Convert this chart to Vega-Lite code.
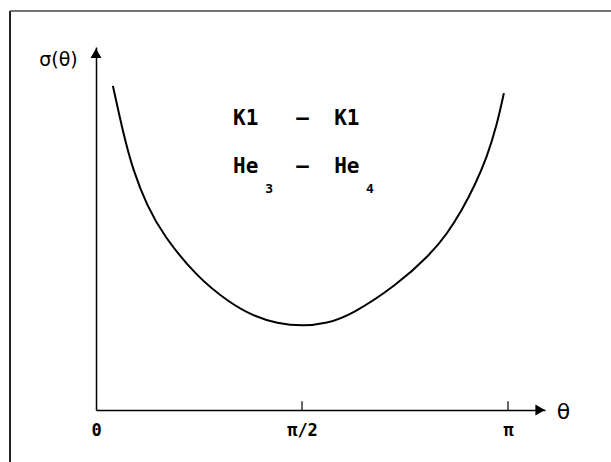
{
  "$schema": "https://vega.github.io/schema/vega-lite/v6.json",
  "width": 611,
  "height": 462,
  "autosize": "none",
  "padding": 0,
  "background": "white",
  "config": {"view": {"stroke": null}},
  "layer": [
    {
      "data": {"values": [
        {"t": 0.041, "sigma": 8.93},
        {"t": 0.066, "sigma": 7.63},
        {"t": 0.090, "sigma": 6.60},
        {"t": 0.124, "sigma": 5.62},
        {"t": 0.163, "sigma": 4.82},
        {"t": 0.245, "sigma": 3.66},
        {"t": 0.325, "sigma": 2.95},
        {"t": 0.380, "sigma": 2.60},
        {"t": 0.440, "sigma": 2.38},
        {"t": 0.502, "sigma": 2.31},
        {"t": 0.560, "sigma": 2.38},
        {"t": 0.620, "sigma": 2.62},
        {"t": 0.731, "sigma": 3.45},
        {"t": 0.811, "sigma": 4.28},
        {"t": 0.852, "sigma": 4.85},
        {"t": 0.888, "sigma": 5.50},
        {"t": 0.920, "sigma": 6.20},
        {"t": 0.949, "sigma": 6.97},
        {"t": 0.973, "sigma": 7.85},
        {"t": 0.990, "sigma": 8.73}
      ]},
      "mark": {"type": "line", "interpolate": "basis", "color": "black", "strokeWidth": 2},
      "encoding": {
        "x": {
          "field": "t", "type": "quantitative",
          "scale": {"domain": [0, 1.0898], "range": [96, 545], "nice": false, "zero": false},
          "axis": {
            "orient": "bottom", "offset": -52, "grid": false,
            "values": [0, 0.5, 1],
            "labelExpr": "datum.value == 0 ? '0' : (datum.value == 0.5 ? 'π/2' : 'π')",
            "labelFont": "DejaVu Sans Mono", "labelFontWeight": "bold", "labelFontSize": 17,
            "labelColor": "black", "labelPadding": 12, "labelBaseline": "top",
            "labelFlush": false, "labelOverlap": false,
            "domainColor": "black", "domainWidth": 1.5,
            "ticks": false,
            "title": "θ", "titleX": 563, "titleY": 1,
            "titleAlign": "center", "titleBaseline": "middle",
            "titleFont": "DejaVu Sans", "titleFontWeight": "normal", "titleFontSize": 22, "titleColor": "black"
          }
        },
        "y": {
          "field": "sigma", "type": "quantitative",
          "scale": {"domain": [0, 10], "range": [410, 47], "nice": false, "zero": false},
          "axis": {
            "orient": "left", "offset": -96, "grid": false,
            "ticks": false, "labels": false,
            "domainColor": "black", "domainWidth": 1.5,
            "title": "σ(θ)", "titleAngle": 0, "titleX": -38, "titleY": 59,
            "titleAlign": "center", "titleBaseline": "middle",
            "titleFont": "DejaVu Sans", "titleFontWeight": "normal", "titleFontSize": 19, "titleColor": "black"
          }
        }
      }
    },
    {
      "data": {"values": [{"t": 0.5}, {"t": 1}]},
      "mark": {"type": "rule", "color": "black", "strokeWidth": 1.2},
      "encoding": {
        "x": {"field": "t", "type": "quantitative"},
        "y": {"datum": 0, "type": "quantitative"},
        "y2": {"datum": 0.24}
      }
    },
    {
      "data": {"values": [{}]},
      "mark": {"type": "point", "shape": "triangle-up", "filled": true, "color": "black", "size": 120, "opacity": 1},
      "encoding": {
        "x": {"datum": 0, "type": "quantitative"},
        "y": {"datum": 9.83, "type": "quantitative"}
      }
    },
    {
      "data": {"values": [{}]},
      "mark": {"type": "point", "shape": "triangle-right", "filled": true, "color": "black", "size": 120, "opacity": 1},
      "encoding": {
        "x": {"datum": 1.078, "type": "quantitative"},
        "y": {"datum": 0, "type": "quantitative"}
      }
    },
    {
      "data": {"values": [{}]},
      "mark": {"type": "rule", "color": "#222", "strokeWidth": 2},
      "encoding": {
        "x": {"datum": -0.2087, "type": "quantitative"},
        "y": {"datum": 10.99, "type": "quantitative"},
        "y2": {"datum": -1.6}
      }
    },
    {
      "data": {"values": [{}]},
      "mark": {"type": "rule", "color": "#444", "strokeWidth": 1.5},
      "encoding": {
        "y": {"datum": 10.99, "type": "quantitative"},
        "x": {"datum": -0.2087, "type": "quantitative"},
        "x2": {"datum": 1.35}
      }
    },
    {
      "data": {"values": [{}]},
      "mark": {"type": "text", "text": "K1\u00a0\u00a0\u00a0–\u00a0\u00a0K1", "font": "DejaVu Sans Mono", "fontWeight": "bold", "fontSize": 21, "align": "left", "baseline": "middle", "color": "black"},
      "encoding": {
        "x": {"datum": 0.3325, "type": "quantitative"},
        "y": {"datum": 8.02, "type": "quantitative"}
      }
    },
    {
      "data": {"values": [{}]},
      "mark": {"type": "text", "text": "He\u00a0\u00a0\u00a0–\u00a0\u00a0He", "font": "DejaVu Sans Mono", "fontWeight": "bold", "fontSize": 21, "align": "left", "baseline": "middle", "color": "black"},
      "encoding": {
        "x": {"datum": 0.3325, "type": "quantitative"},
        "y": {"datum": 6.69, "type": "quantitative"}
      }
    },
    {
      "data": {"values": [{}]},
      "mark": {"type": "text", "text": "3", "font": "DejaVu Sans Mono", "fontWeight": "bold", "fontSize": 13, "align": "center", "baseline": "middle", "color": "black"},
      "encoding": {
        "x": {"datum": 0.42, "type": "quantitative"},
        "y": {"datum": 6.08, "type": "quantitative"}
      }
    },
    {
      "data": {"values": [{}]},
      "mark": {"type": "text", "text": "4", "font": "DejaVu Sans Mono", "fontWeight": "bold", "fontSize": 13, "align": "center", "baseline": "middle", "color": "black"},
      "encoding": {
        "x": {"datum": 0.665, "type": "quantitative"},
        "y": {"datum": 6.08, "type": "quantitative"}
      }
    }
  ]
}
